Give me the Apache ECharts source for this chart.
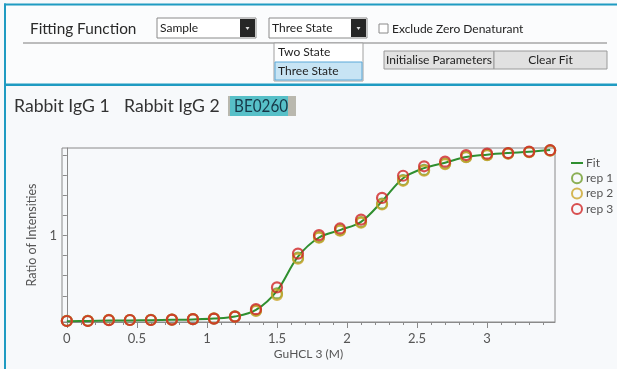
<!DOCTYPE html>
<html><head><meta charset="utf-8">
<script src="https://cdn.jsdelivr.net/npm/echarts@6/dist/echarts.min.js"></script>
<style>html,body{margin:0;padding:0;background:#f7f9fb;}#c{width:617px;height:369px;}</style>
</head><body><div id="c"></div>
<script>
// ---- data ----
const concentration = [0,0.15,0.3,0.45,0.6,0.75,0.9,1.05,1.2,1.35,1.5,1.65,1.8,1.95,2.1,2.25,2.4,2.55,2.7,2.85,3.0,3.15,3.3,3.45];
const fit  = [0.574,0.575,0.577,0.578,0.579,0.581,0.583,0.587,0.597,0.630,0.725,0.895,0.990,1.027,1.068,1.170,1.285,1.335,1.362,1.390,1.402,1.410,1.416,1.425];
const rep1 = [0.576,0.576,0.580,0.580,0.581,0.582,0.584,0.587,0.598,0.628,0.712,0.890,0.992,1.027,1.067,1.158,1.276,1.326,1.358,1.391,1.401,1.408,1.415,1.423];
const rep2 = [0.575,0.576,0.581,0.580,0.580,0.582,0.584,0.588,0.597,0.625,0.705,0.885,0.989,1.024,1.064,1.154,1.272,1.322,1.355,1.389,1.399,1.407,1.414,1.422];
const rep3 = [0.575,0.575,0.579,0.580,0.580,0.582,0.584,0.587,0.597,0.634,0.742,0.910,1.002,1.035,1.079,1.187,1.297,1.344,1.367,1.400,1.407,1.410,1.417,1.424];
const xMajorTicks = [0,0.5,1,1.5,2,2.5,3];
const xTickLabels = ['0','0.5','1','1.5','2','2.5','3'];
const xMinorTicks = [0.1,0.2,0.3,0.4,0.6,0.7,0.8,0.9,1.1,1.2,1.3,1.4,1.6,1.7,1.8,1.9,2.1,2.2,2.3,2.4,2.6,2.7,2.8,2.9,3.1,3.2,3.3,3.4];
const yTicks = [0.6,0.7,0.8,0.9,1.0,1.1,1.2,1.3,1.4];
const yTickLabels = [1];
const seriesNames = ['Fit','rep 1','rep 2','rep 3'];
const colors = ['#2f8f2f','#6f9c2c','#cba52a','#cf2424'];

const FONT = 'Lato';
const teal = '#1f9bc2';
const chart = echarts.init(document.getElementById('c'));

function txt(x,y,s,size,opts){
  opts=opts||{};
  const el = {type:'text',x:x,y:y,style:{text:s,fontSize:size,fontFamily:FONT,fill:opts.fill||'#222',verticalAlign:'middle',align:opts.align||'left'}};
  if (opts.scaleX) el.scaleX = opts.scaleX;
  return el;
}
function dropdown(x,w,label){
  return [
    {type:'rect',shape:{x:x,y:18,width:w,height:20},style:{fill:'#fff',stroke:'#8a8a8a',lineWidth:1}},
    {type:'rect',shape:{x:x+w-16,y:19,width:15,height:18},style:{fill:'#262626'}},
    {type:'polygon',shape:{points:[[x+w-10.5,27],[x+w-6.5,27],[x+w-8.5,30]]},style:{fill:'#ddd'}},
    txt(x+3,28.5,label,12)
  ];
}
const graphics = [].concat(
  [
    {type:'rect',shape:{x:4,y:3.5,width:613,height:2},style:{fill:teal}},
    {type:'rect',shape:{x:4,y:3.5,width:2,height:366},style:{fill:teal}},
    {type:'rect',shape:{x:6,y:6,width:611,height:78},style:{fill:'#fbfcfd'}},
    {type:'rect',shape:{x:4,y:83.5,width:613,height:2.5},style:{fill:teal}},
    txt(30,29,'Fitting Function',16,{fill:'#2a2a2a',scaleX:0.96}),
    {type:'line',shape:{x1:23,y1:43,x2:607,y2:43},style:{stroke:'#7c7c7c',lineWidth:1}}
  ],
  dropdown(157,99,'Sample'),
  dropdown(269,98,'Three State'),
  [
    {type:'rect',shape:{x:379,y:24,width:9,height:9},style:{fill:'#fff',stroke:'#8a8a8a',lineWidth:1}},
    txt(392,29,'Exclude Zero Denaturant',12),
    {type:'rect',shape:{x:274,y:43,width:89,height:38},style:{fill:'#fff',stroke:'#a0a0a0',lineWidth:1}},
    {type:'rect',shape:{x:275,y:62,width:87,height:18},style:{fill:'#c7e4f4',stroke:'#5aa8d8',lineWidth:1}},
    txt(278,52.5,'Two State',12),
    txt(278,71.5,'Three State',12),
    {type:'rect',shape:{x:384,y:51,width:110,height:18},style:{fill:'#e1e1e1',stroke:'#9a9a9a',lineWidth:1}},
    {type:'rect',shape:{x:494,y:51,width:113,height:18},style:{fill:'#e1e1e1',stroke:'#9a9a9a',lineWidth:1}},
    txt(439,60.5,'Initialise Parameters',12,{align:'center'}),
    txt(550.5,60.5,'Clear Fit',12,{align:'center'}),
    txt(14,106,'Rabbit IgG 1',17.6,{fill:'#333'}),
    txt(124,106,'Rabbit IgG 2',17.6,{fill:'#333'}),
    {type:'rect',shape:{x:228,y:96,width:68,height:20},style:{fill:'#b9b8ae'}},
    {type:'rect',shape:{x:230,y:96,width:58,height:20},style:{fill:'#57c0c8'}},
    txt(234,106,'BE0260',17.6,{fill:'#173848',scaleX:0.87})
  ]
);

const toPts = arr => concentration.map((x,i)=>[x,arr[i]]);
const option = {
  animation:false,
  backgroundColor:'#f7f9fb',
  textStyle:{fontFamily:FONT},
  graphic:{elements:graphics},
  grid:{left:62,top:148,width:493,height:174,show:true,borderColor:'#8a8a8a',borderWidth:1,backgroundColor:'transparent',containLabel:false,outerBoundsMode:'none'},
  legend:{
    orient:'vertical',left:565,top:152,itemWidth:12,itemHeight:10,itemGap:3.3,
    textStyle:{fontSize:12,color:'#555',fontFamily:FONT,padding:[0,0,0,-2]},
    data:seriesNames
  },
  xAxis:[{
    type:'value',min:-0.0345,max:3.4845,
    name:'GuHCL 3 (M)',nameLocation:'middle',nameGap:26,
    nameTextStyle:{fontSize:12,color:'#555',fontFamily:FONT},
    axisLine:{show:true,lineStyle:{color:'#8a8a8a'}},
    axisTick:{show:true,length:6,customValues:xMajorTicks,lineStyle:{color:'#8a8a8a'}},
    axisLabel:{show:true,customValues:xMajorTicks,margin:10,fontSize:13,color:'#555',
      formatter:v=>{const i=xMajorTicks.findIndex(t=>Math.abs(t-v)<1e-9);return i>=0?xTickLabels[i]:'';}},
    splitLine:{show:false}
  },{
    type:'value',min:-0.0345,max:3.4845,gridIndex:0,position:'bottom',
    axisLine:{show:false},
    axisTick:{show:true,length:3,customValues:xMinorTicks,lineStyle:{color:'#8a8a8a'}},
    axisLabel:{show:false},splitLine:{show:false}
  }],
  yAxis:{
    type:'value',min:0.57,max:1.435,
    name:'Ratio of Intensities',nameLocation:'middle',nameGap:24,nameRotate:90,
    nameTextStyle:{fontSize:12.5,color:'#555',fontFamily:FONT},
    axisLine:{show:true,lineStyle:{color:'#8a8a8a'}},
    axisTick:{show:true,length:4,customValues:yTicks,lineStyle:{color:'#8a8a8a'}},
    axisLabel:{show:true,customValues:yTickLabels,margin:5,fontSize:13,color:'#555',formatter:v=>String(Math.round(v*1000)/1000)},
    splitLine:{show:false}
  },
  series:[
    {type:'line',name:seriesNames[0],data:toPts(fit),smooth:0.35,symbol:'none',
      lineStyle:{color:colors[0],width:2},itemStyle:{color:'rgba(0,0,0,0)'},z:2},
    {type:'scatter',name:seriesNames[1],data:toPts(rep1),symbol:'circle',symbolSize:10,
      itemStyle:{color:'rgba(255,255,255,0)',borderColor:colors[1],borderWidth:2.2},z:3},
    {type:'scatter',name:seriesNames[2],data:toPts(rep2),symbol:'circle',symbolSize:10,
      itemStyle:{color:'rgba(255,255,255,0)',borderColor:colors[2],borderWidth:2.2},z:4},
    {type:'scatter',name:seriesNames[3],data:toPts(rep3),symbol:'circle',symbolSize:10,
      itemStyle:{color:'rgba(255,255,255,0)',borderColor:colors[3],borderWidth:2.2},z:5}
  ]
};
chart.setOption(option);
</script></body></html>
